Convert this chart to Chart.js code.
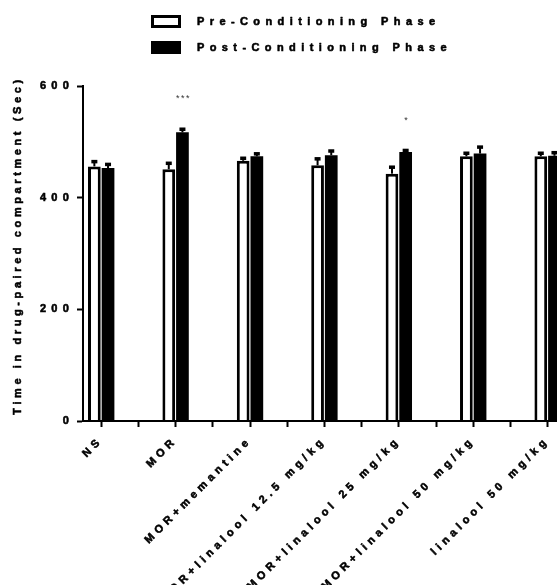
<!DOCTYPE html>
<html><head><meta charset="utf-8">
<script src="https://cdn.jsdelivr.net/npm/chart.js@4.4.1/dist/chart.umd.min.js"></script>
<style>html,body{margin:0;padding:0;background:#fff;overflow:hidden}canvas{display:block}</style>
</head><body>
<canvas id="c" width="557" height="585"></canvas>
<script>
const categories = ['NS', 'MOR', 'MOR+memantine', 'MOR+linalool 12.5 mg/kg', 'MOR+linalool 25 mg/kg', 'MOR+linalool 50 mg/kg', 'linalool 50 mg/kg'];
const seriesNames = ['Pre-Conditioning Phase', 'Post-Conditioning Phase'];
const preValues = [456, 451, 466, 458, 443, 474, 474];
const preErrors = [9, 11, 5, 12, 12, 6, 6];
const postValues = [453, 517, 474, 476, 482, 479, 475];
const postErrors = [7, 6, 5, 8, 3, 12, 6];
const significance = ['', '***', '', '', '*', '', ''];
const yTicks = [0, 200, 400, 600];
const xTickPositions = categories.flatMap((_, i) => [i, i + 0.5]);

const FONT = "'Liberation Sans', Arial, Helvetica, sans-serif";
const HEAVY = 0.55;

function heavyText(c, run) {
  const orig = c.fillText;
  c.strokeStyle = '#000';
  c.lineWidth = HEAVY;
  c.lineJoin = 'round';
  c.fillText = function (t, x, y, mw) {
    if (mw === undefined) { this.strokeText(t, x, y); orig.call(this, t, x, y); }
    else { this.strokeText(t, x, y, mw); orig.call(this, t, x, y, mw); }
  };
  try { run(); } finally { delete c.fillText; }
}

function withSpacing(fn, ls, dy) {
  return function (...args) {
    const c = this.ctx;
    c.save();
    c.letterSpacing = ls;
    if (dy) c.translate(0, dy);
    heavyText(c, () => fn.apply(this, args));
    c.restore();
  };
}

const stylePlugin = {
  id: 'style',
  beforeLayout(chart) { chart.ctx.letterSpacing = '4.3px'; },
  beforeDraw(chart) {
    chart.ctx.letterSpacing = '0px';
    const xs = chart.scales.x, ys = chart.scales.y;
    if (!xs._lsWrapped) { xs.drawLabels = withSpacing(xs.drawLabels, '4.3px'); xs._lsWrapped = true; }
    if (!ys._lsWrapped) {
      ys.drawLabels = withSpacing(ys.drawLabels, '5.2px');
      ys.drawTitle = withSpacing(ys.drawTitle, '3.6px', -8);
      ys._lsWrapped = true;
    }
  },
  afterDatasetsDraw(chart) {
    const ctx = chart.ctx, ys = chart.scales.y, a = chart.chartArea;
    ctx.save();
    ctx.beginPath(); ctx.rect(a.left, 0, a.right - a.left, a.bottom); ctx.clip();
    ctx.strokeStyle = '#000'; ctx.fillStyle = '#000'; ctx.lineWidth = 2;
    [[0, preValues, preErrors], [1, postValues, postErrors]].forEach(([di, vals, errs]) => {
      chart.getDatasetMeta(di).data.forEach((bar, i) => {
        const yTop = ys.getPixelForValue(vals[i] + errs[i]);
        ctx.beginPath(); ctx.moveTo(bar.x, bar.y); ctx.lineTo(bar.x, yTop); ctx.stroke();
        ctx.fillRect(bar.x - 3, yTop - 1.5, 6, 3.5);
      });
    });
    ctx.restore();
  },
  afterDraw(chart) {
    const ctx = chart.ctx, ys = chart.scales.y;
    // significance marks
    ctx.save();
    ctx.fillStyle = '#333';
    ctx.font = '9px ' + FONT;
    ctx.letterSpacing = '1.5px';
    ctx.textAlign = 'center';
    ctx.textBaseline = 'middle';
    const postMeta = chart.getDatasetMeta(1);
    significance.forEach((s, i) => {
      if (!s) return;
      const bar = postMeta.data[i];
      const yTop = ys.getPixelForValue(postValues[i] + postErrors[i]);
      ctx.fillText(s, bar.x + 1, yTop - 30);
    });
    ctx.restore();
    // legend
    ctx.save();
    ctx.font = 'bold 11px ' + FONT;
    ctx.letterSpacing = '5.4px';
    ctx.textBaseline = 'middle';
    const rows = [21.5, 47.5];
    chart.data.datasets.forEach((ds, i) => {
      const cy = rows[i];
      if (i === 0) {
        ctx.fillStyle = '#fff'; ctx.fillRect(151, cy - 6.5, 30, 13);
        ctx.strokeStyle = '#000'; ctx.lineWidth = 3; ctx.strokeRect(152.5, cy - 5, 27, 10);
      } else {
        ctx.fillStyle = '#000'; ctx.fillRect(151, cy - 6.5, 30, 13);
      }
      ctx.fillStyle = '#000';
      ctx.strokeStyle = '#000'; ctx.lineWidth = HEAVY; ctx.lineJoin = 'round';
      ctx.strokeText(ds.label, 197, cy + 0.5);
      ctx.fillText(ds.label, 197, cy + 0.5);
    });
    ctx.restore();
  }
};

new Chart(document.getElementById('c'), {
  type: 'bar',
  data: {
    datasets: [
      { label: seriesNames[0], data: preValues.map((v, i) => ({ x: i, y: v })), backgroundColor: '#fff', borderColor: '#000', borderWidth: 3, borderSkipped: 'bottom' },
      { label: seriesNames[1], data: postValues.map((v, i) => ({ x: i, y: v })), backgroundColor: '#000', borderWidth: 0 }
    ]
  },
  options: {
    responsive: false,
    animation: false,
    devicePixelRatio: 1,
    categoryPercentage: 0.735,
    barPercentage: 0.93,
    layout: { padding: { top: 86, left: 0, right: 0, bottom: 0 } },
    plugins: { legend: { display: false }, tooltip: { enabled: false } },
    scales: {
      x: {
        type: 'linear', min: -0.2446, max: 6.126, offset: false,
        grid: { offset: false, drawOnChartArea: false, drawTicks: true, tickLength: 6, tickWidth: 2, tickColor: '#000' },
        border: { display: true, color: '#000', width: 2, z: 1 },
        afterBuildTicks(s) { s.ticks = xTickPositions.map(v => ({ value: v })); },
        ticks: {
          autoSkip: false, maxRotation: 45, minRotation: 45, padding: 7, color: '#000',
          font: { family: FONT, weight: 'bold', size: 11 },
          callback(v) { return Number.isInteger(v) ? categories[v] : ''; }
        },
        afterFit(s) { s.height = 164; s.paddingLeft = 0; s.paddingRight = 0; }
      },
      y: {
        min: 0, max: 600,
        afterBuildTicks(s) { s.ticks = yTicks.map(v => ({ value: v })); },
        grid: { drawOnChartArea: false, drawTicks: true, tickLength: 6, tickWidth: 2, tickColor: '#000' },
        border: { display: true, color: '#000', width: 2, z: 1 },
        ticks: { padding: 3, color: '#000', font: { family: FONT, weight: 'bold', size: 11 } },
        title: { display: true, text: 'Time in drug-paired compartment (Sec)', color: '#000', font: { family: FONT, weight: 'bold', size: 11 }, padding: { top: 11, bottom: 0 } },
        afterFit(s) { s.width = 83; s.paddingTop = 0; s.paddingBottom = 0; }
      }
    }
  },
  plugins: [stylePlugin]
});
</script>
</body></html>
